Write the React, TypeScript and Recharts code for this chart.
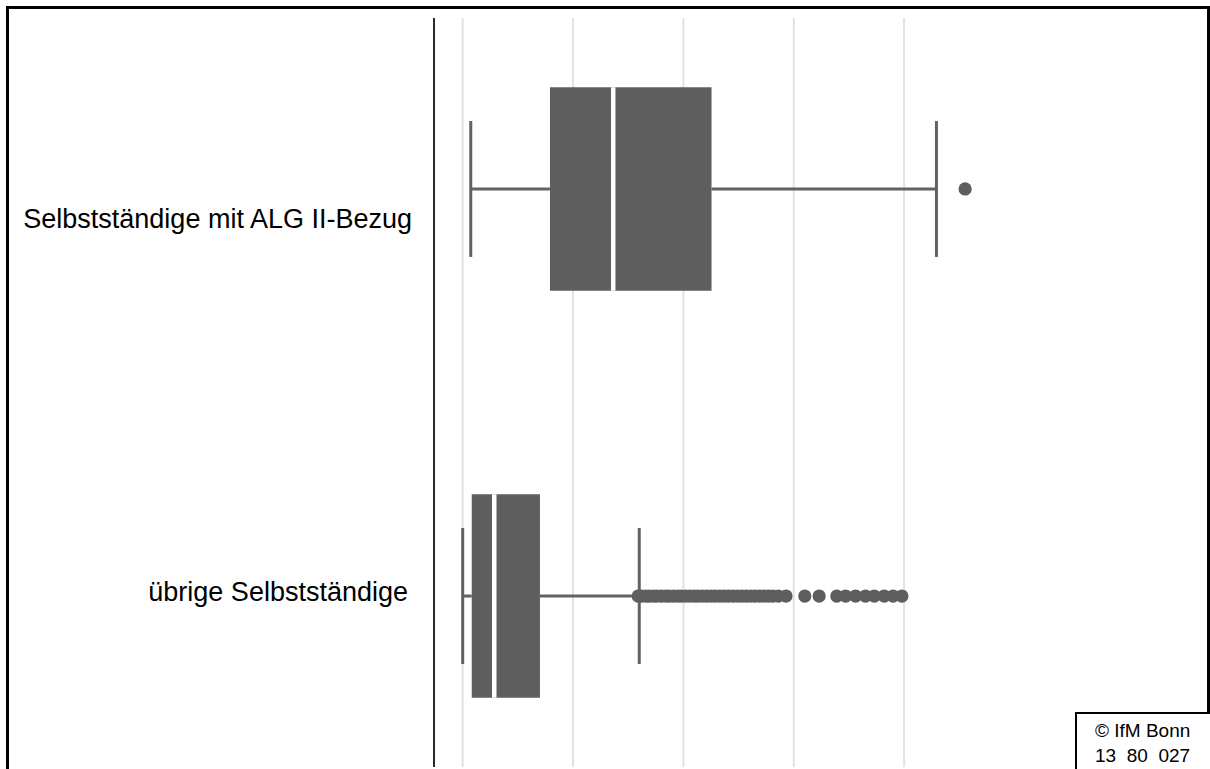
import React from 'react';
import {
  ComposedChart,
  XAxis,
  YAxis,
  CartesianGrid,
  ReferenceArea,
  ReferenceLine,
  Scatter,
} from 'recharts';

// Gruppen (oben -> unten) und ihre Lage auf der y-Achse
const categories = ['Selbstständige mit ALG II-Bezug', 'übrige Selbstständige'];
const categoryPos = [1, 0];

// Kennwerte der Boxplots
const whiskerLow = [0.073, 0.0];
const quartile1 = [0.791, 0.082];
const medians = [1.364, 0.286];
const quartile3 = [2.255, 0.7];
const whiskerHigh = [4.293, 1.6];

// Ausreißer
const outliersAlg = [4.553];
const outliersUebrige = [
  1.59, 1.62, 1.66, 1.69, 1.73, 1.76, 1.8, 1.84, 1.87, 1.91, 1.95, 1.98,
  2.02, 2.06, 2.1, 2.13, 2.17, 2.21, 2.25, 2.29, 2.33, 2.37, 2.41, 2.45,
  2.49, 2.53, 2.57, 2.61, 2.65, 2.69, 2.73, 2.77, 2.81, 2.86, 2.93,
  3.1, 3.23, 3.39, 3.47, 3.56, 3.65, 3.73, 3.82, 3.9, 3.98,
];

const xTicks = [0, 1, 2, 3, 4];

const FONT = '"Liberation Sans", Arial, sans-serif';
const BOX = '#5e5e5e';
const WHISKER = '#626262';
const BOX_HALF = 0.25;
const CAP_HALF = 0.167;

// kleine Verschiebungen der Achsenbeschriftung wie im Original
const labelShift = [
  { dx: 0, dy: 39 },
  { dx: -4, dy: 5 },
];

const CatTick = (props: any) => {
  const { x, y, payload } = props;
  const i = categoryPos.indexOf(payload.value);
  if (i < 0) return null;
  return (
    <text
      x={x + labelShift[i].dx}
      y={y + labelShift[i].dy}
      textAnchor="end"
      fontSize={27}
      fontFamily={FONT}
      fill="#000"
    >
      {categories[i]}
    </text>
  );
};

const Dot = (props: any) => <circle cx={props.cx} cy={props.cy} r={6.6} fill={BOX} />;

// Gitterlinien nur an den Ticks, nicht am Rand der Zeichenfläche
const gridX = ({ xAxis, offset }: any) => {
  if (xAxis && typeof xAxis.scale === 'function') {
    return xTicks.map((t) => xAxis.scale(t));
  }
  const [d0, d1] = [-0.26, 6.5];
  return xTicks.map((t) => offset.left + ((t - d0) / (d1 - d0)) * offset.width);
};

const App: React.FC = () => {
  return (
    <div
      style={{
        position: 'absolute',
        left: 0,
        top: 0,
        width: 1210,
        height: 769,
        overflow: 'hidden',
        background: '#fff',
        fontFamily: FONT,
      }}
    >
      <div
        style={{
          position: 'absolute',
          left: 6,
          top: 6,
          width: 1204,
          height: 900,
          boxSizing: 'border-box',
          border: '3px solid #000',
        }}
      />
      <div style={{ position: 'absolute', left: 0, top: 0 }}>
        <ComposedChart width={1210} height={800} margin={{ top: 18, right: 30, bottom: 33, left: 0 }}>
          <CartesianGrid
            horizontal={false}
            stroke="#e2e2e2"
            strokeWidth={2}
            verticalCoordinatesGenerator={gridX}
          />
          <XAxis type="number" dataKey="x" domain={[-0.26, 6.5]} ticks={xTicks} hide allowDataOverflow />
          <YAxis
            type="number"
            dataKey="y"
            domain={[-0.42, 1.42]}
            ticks={categoryPos}
            interval={0}
            width={434}
            tickLine={false}
            tickSize={0}
            tickMargin={22}
            axisLine={{ stroke: '#2b2b2b', strokeWidth: 2 }}
            tick={<CatTick />}
            allowDataOverflow
          />

          {categoryPos.map((y, i) => (
            <ReferenceLine
              key={`wl-${i}`}
              segment={[{ x: whiskerLow[i], y }, { x: quartile1[i], y }]}
              stroke={WHISKER}
              strokeWidth={3}
            />
          ))}
          {categoryPos.map((y, i) => (
            <ReferenceLine
              key={`wh-${i}`}
              segment={[{ x: quartile3[i], y }, { x: whiskerHigh[i], y }]}
              stroke={WHISKER}
              strokeWidth={3}
            />
          ))}
          {categoryPos.map((y, i) => (
            <ReferenceLine
              key={`cl-${i}`}
              segment={[{ x: whiskerLow[i], y: y - CAP_HALF }, { x: whiskerLow[i], y: y + CAP_HALF }]}
              stroke={WHISKER}
              strokeWidth={3}
            />
          ))}
          {categoryPos.map((y, i) => (
            <ReferenceLine
              key={`ch-${i}`}
              segment={[{ x: whiskerHigh[i], y: y - CAP_HALF }, { x: whiskerHigh[i], y: y + CAP_HALF }]}
              stroke={WHISKER}
              strokeWidth={3}
            />
          ))}
          {categoryPos.map((y, i) => (
            <ReferenceArea
              key={`box-${i}`}
              x1={quartile1[i]}
              x2={quartile3[i]}
              y1={y - BOX_HALF}
              y2={y + BOX_HALF}
              fill={BOX}
              fillOpacity={1}
              stroke="none"
            />
          ))}
          {categoryPos.map((y, i) => (
            <ReferenceLine
              key={`med-${i}`}
              segment={[{ x: medians[i], y: y - BOX_HALF }, { x: medians[i], y: y + BOX_HALF }]}
              stroke="#fff"
              strokeWidth={4.5}
            />
          ))}

          <Scatter
            data={outliersAlg.map((v) => ({ x: v, y: categoryPos[0] }))}
            shape={Dot}
            isAnimationActive={false}
          />
          <Scatter
            data={outliersUebrige.map((v) => ({ x: v, y: categoryPos[1] }))}
            shape={Dot}
            isAnimationActive={false}
          />
        </ComposedChart>
      </div>
      <div
        style={{
          position: 'absolute',
          left: 1075,
          top: 712,
          width: 200,
          height: 120,
          boxSizing: 'border-box',
          border: '2px solid #000',
          background: '#fff',
          padding: '4px 0 0 18px',
          fontSize: 19,
          lineHeight: '25px',
          color: '#000',
          whiteSpace: 'pre',
        }}
      >
        <div>© IfM Bonn</div>
        <div>13  80  027</div>
      </div>
    </div>
  );
};

export default App;
